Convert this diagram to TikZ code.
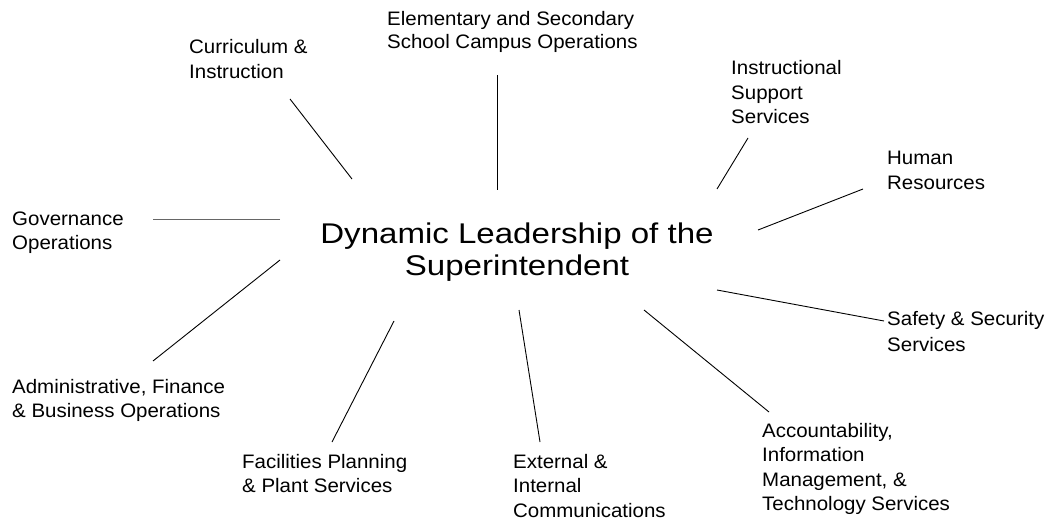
\documentclass[tikz,border=0pt]{standalone}
\usepackage{fontspec}
\setmainfont{Liberation Sans}
\newfontfamily\smallfam{Liberation Sans}[FakeStretch=1.05]
\newfontfamily\bigfam{Liberation Sans}[FakeStretch=1.16]
\begin{document}
\begin{tikzpicture}[x=1pt,y=-1pt,
  lbl/.style={anchor=base west,inner sep=0pt,align=left,font=\smallfam\fontsize{19.5}{24.5}\selectfont},
  hub/.style={anchor=base,inner sep=0pt,align=center,font=\bigfam\fontsize{28.5}{32}\selectfont},
  spoke/.style={draw=black,line width=0.9pt}]
\useasboundingbox (0,0) rectangle (1048,529);
% anchors are at the baseline of each text's last line
\node[hub] (dyn) at (517,275) {Dynamic Leadership of the\\Superintendent};
\node[lbl] (cur) at (189,78.5) {Curriculum \&\\Instruction};
\node[lbl,font=\smallfam\fontsize{19.5}{23}\selectfont] (ele) at (387,49) {Elementary and Secondary\\School Campus Operations};
\node[lbl] (ins) at (731,124) {Instructional\\Support\\Services};
\node[lbl] (hum) at (887,189.5) {Human\\Resources};
\node[lbl] (gov) at (12,249.5) {Governance\\Operations};
\node[lbl,font=\smallfam\fontsize{19.5}{26}\selectfont] (saf) at (887,351) {Safety \& Security\\Services};
\node[lbl] (adm) at (12,417.5) {Administrative, Finance\\\& Business Operations};
\node[lbl] (fac) at (242,492.5) {Facilities Planning\\\& Plant Services};
\node[lbl] (ext) at (513,517) {External \&\\Internal\\Communications};
\node[lbl] (acc) at (762,510.5) {Accountability,\\Information\\Management, \&\\Technology Services};
% spoke end points
\coordinate (curA) at (352,179); \coordinate (curB) at (290,99);
\coordinate (eleA) at (497,190); \coordinate (eleB) at (497,75);
\coordinate (insA) at (717,189); \coordinate (insB) at (748,138);
\coordinate (humA) at (758,230); \coordinate (humB) at (863,189);
\coordinate (govA) at (280,219); \coordinate (govB) at (153,219);
\coordinate (safA) at (717,290); \coordinate (safB) at (884,321);
\coordinate (accA) at (644,310); \coordinate (accB) at (769,412);
\coordinate (extA) at (519,310); \coordinate (extB) at (540,442);
\coordinate (facA) at (394,321); \coordinate (facB) at (332,442);
\coordinate (admA) at (280,260); \coordinate (admB) at (153,361);
\draw[spoke] (curA) -- (curB);
\draw[spoke] (eleA) -- (eleB);
\draw[spoke] (insA) -- (insB);
\draw[spoke] (humA) -- (humB);
\draw[spoke,draw=black!60] (govA) -- (govB);
\draw[spoke] (safA) -- (safB);
\draw[spoke] (accA) -- (accB);
\draw[spoke] (extA) -- (extB);
\draw[spoke] (facA) -- (facB);
\draw[spoke] (admA) -- (admB);
\end{tikzpicture}
\end{document}
